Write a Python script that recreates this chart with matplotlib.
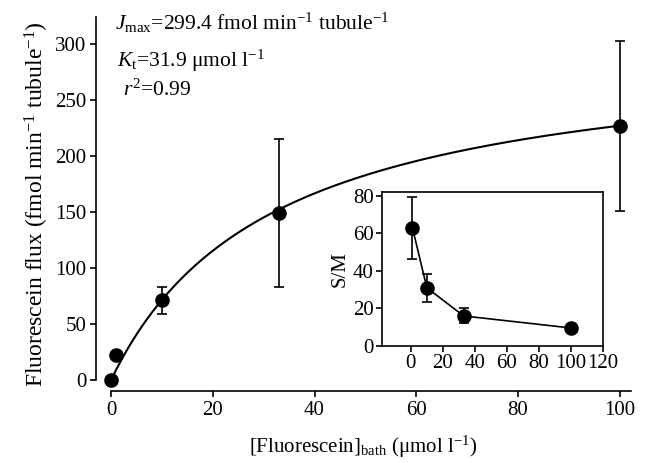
import matplotlib
matplotlib.use("Agg")
import matplotlib.pyplot as plt
import numpy as np

plt.rcParams['font.family'] = ['Liberation Serif', 'DejaVu Serif']
plt.rcParams['mathtext.fontset'] = 'custom'
plt.rcParams['mathtext.rm'] = 'Liberation Serif'
plt.rcParams['mathtext.it'] = 'Liberation Serif:italic'

# main panel: flux vs bath concentration
conc = [0, 1, 10, 33, 100]
flux = [0, 22.5, 71, 149, 227]
flux_err = [0, 0, 12, 66, 76]

# fit parameters (Michaelis-Menten), as printed on the chart
J_MAX = 299.4
K_T = 31.9

# inset: S/M ratio
sm_conc = [1, 10, 33, 100]
sm = [63, 31, 16, 9.6]
sm_err = [16.5, 7.5, 4, 0]

fig = plt.figure(figsize=(6.51, 4.63), dpi=100)
ax = fig.add_axes([96 / 651, 72 / 463, 535 / 651, 374 / 463])

xs = np.linspace(0, 100, 200)
ax.plot(xs, J_MAX * xs / (K_T + xs), color='black', lw=1.5)
ax.errorbar(conc, flux, yerr=flux_err, fmt='o', color='black', ms=9.5,
            capsize=3.5, elinewidth=1.2, capthick=1.2)

ax.set_xlim(-2.95, 102.2)
ax.set_ylim(-9.8, 324)
ax.spines['top'].set_visible(False)
ax.spines['right'].set_visible(False)
ax.spines['left'].set_bounds(0, 324)
ax.spines['bottom'].set_bounds(0, 102.2)
for s in ['left', 'bottom']:
    ax.spines[s].set_linewidth(1.2)
ax.set_xticks(range(0, 101, 20))
ax.set_yticks(range(0, 301, 50))
ax.tick_params(direction='out', length=4, width=1.2, labelsize=15, pad=3)
ax.set_xlabel(r"[Fluorescein]$_{\rm bath}$ ($\mathrm{\mu}$mol l$^{-1}$)", fontsize=15, labelpad=10)
ax.set_ylabel(r"Fluorescein flux (fmol min$^{-1}$ tubule$^{-1}$)", fontsize=17, labelpad=3)

fig.text(115 / 651, 1 - 23 / 463, r"$J_{\rm max}$=299.4 fmol min$^{-1}$ tubule$^{-1}$",
         fontsize=15.5, va='center', ha='left')
fig.text(117 / 651, 1 - 61 / 463, r"$K_{\rm t}$=31.9 $\mathrm{\mu}$mol l$^{-1}$",
         fontsize=15.5, va='center', ha='left')
fig.text(123 / 651, 1 - 90 / 463, r"$r^2$=0.99", fontsize=15.5, va='center', ha='left')

# inset
ins = fig.add_axes([382 / 651, 117 / 463, 221 / 651, 154 / 463])
ins.errorbar(sm_conc, sm, yerr=sm_err, fmt='-o', color='black', ms=9.5, lw=1.2,
             capsize=3.5, elinewidth=1.2, capthick=1.2)
ins.set_xlim(-18, 120)
ins.set_ylim(0, 82)
ins.set_xticks(range(0, 121, 20))
ins.set_yticks(range(0, 81, 20))
for s in ins.spines.values():
    s.set_linewidth(1.2)
ins.tick_params(direction='out', length=4, width=1.2, labelsize=15, pad=2)
ins.set_ylabel("S/M", fontsize=15, labelpad=2)

fig.savefig("out.png", dpi=100)
